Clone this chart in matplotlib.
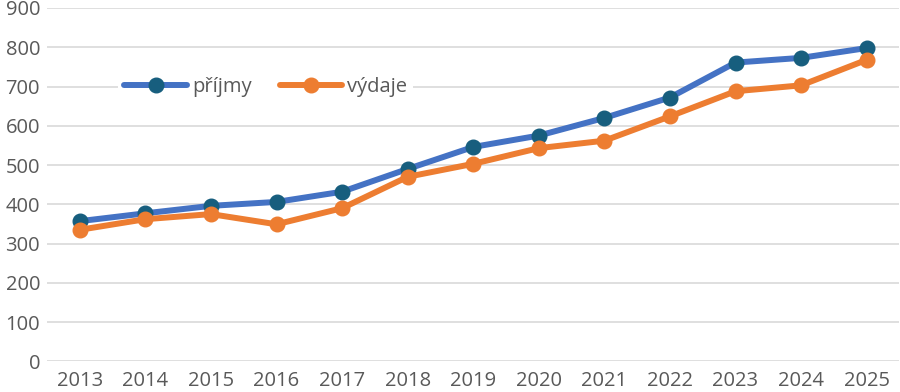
import matplotlib
matplotlib.use("Agg")
import matplotlib.pyplot as plt

years = ["2013", "2014", "2015", "2016", "2017", "2018", "2019",
         "2020", "2021", "2022", "2023", "2024", "2025"]
prijmy = [357, 377, 396, 406, 432, 490, 546, 575, 620, 672, 761, 773, 798]
vydaje = [335, 362, 375, 349, 390, 470, 503, 543, 562, 624, 688, 703, 768]
yticks = [0, 100, 200, 300, 400, 500, 600, 700, 800, 900]

plt.rcParams['font.family'] = ['Open Sans', 'DejaVu Sans']

fig = plt.figure(figsize=(9, 3.92), dpi=100)
ax = fig.add_axes([47/900, 1 - 361.3/392, (899.5 - 47)/900, (361.3 - 8)/392])

x = list(range(len(years)))
ax.plot(x, prijmy, color='#4472C4', lw=4.3, marker='o', markersize=10.5,
        markerfacecolor='#175E7E', markeredgecolor='#175E7E', label='příjmy',
        solid_capstyle='round', zorder=3)
ax.plot(x, vydaje, color='#ED7D31', lw=4.3, marker='o', markersize=10.5,
        markerfacecolor='#ED7D31', markeredgecolor='#ED7D31', label='výdaje',
        solid_capstyle='round', zorder=3)

ax.set_xlim(-0.5, len(years) - 0.5)
ax.set_ylim(0, 900)
ax.set_yticks(yticks)
ax.set_xticks(x)
ax.set_xticklabels(years)
ax.yaxis.grid(True, color='#D9D9D9', lw=1.2)
ax.set_axisbelow(True)
for s in ax.spines.values():
    s.set_visible(False)
ax.tick_params(axis='both', length=0, labelsize=14.5, labelcolor='#595959')
ax.tick_params(axis='y', pad=5)
ax.tick_params(axis='x', pad=7)

leg = ax.legend(loc='center left', bbox_to_anchor=(0.072, 0.775), ncol=2,
                frameon=True, fontsize=14.5, handlelength=3.1, columnspacing=1.4,
                handletextpad=0.25, borderpad=0.3, labelcolor='#595959')
leg.get_frame().set_facecolor('white')
leg.get_frame().set_edgecolor('none')
leg.get_frame().set_alpha(1)

fig.savefig('out.png', dpi=100)
